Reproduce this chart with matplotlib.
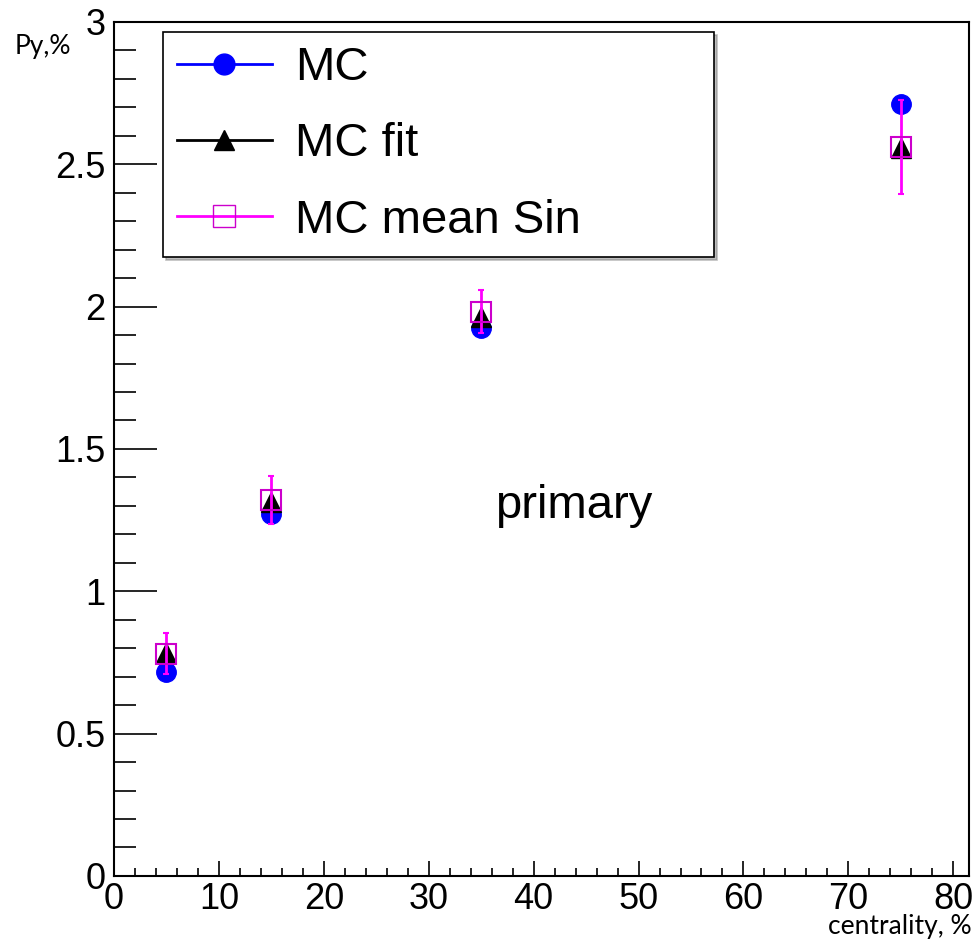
import matplotlib.pyplot as plt
from matplotlib.lines import Line2D
from matplotlib.ticker import MultipleLocator

# Datos
centrality = [5, 15, 35, 75]
mc = [0.718, 1.27, 1.924, 2.712]
mc_fit = [0.783, 1.314, 1.965, 2.556]
mc_mean_sin = [0.78, 1.32, 1.982, 2.562]
mc_mean_sin_err = [0.072, 0.085, 0.075, 0.165]

plt.rcParams['font.family'] = ['Liberation Sans', 'DejaVu Sans']

fig = plt.figure(figsize=(9.77, 9.43), dpi=100)
ax = fig.add_axes([0.1167, 0.0711, 0.8751, 0.9056])

ax.plot(centrality, mc, 'o', color='#0000ff', markersize=14, zorder=3)
ax.plot(centrality, mc_fit, '^', color='black', markersize=14, zorder=4)
ax.errorbar(centrality, mc_mean_sin, yerr=mc_mean_sin_err, fmt='s', color='#ff00ff',
            mfc='none', mec='#cc00cc', markersize=15, mew=1.5, elinewidth=2,
            capsize=2, capthick=3, zorder=5)

ax.set_xlim(0, 81.5)
ax.set_ylim(0, 3)
ax.xaxis.set_major_locator(MultipleLocator(10))
ax.xaxis.set_minor_locator(MultipleLocator(2))
ax.yaxis.set_major_locator(MultipleLocator(0.5))
ax.yaxis.set_minor_locator(MultipleLocator(0.1))
ax.tick_params(axis='both', which='both', direction='in', labelsize=26, width=1.2)
ax.tick_params(axis='y', which='major', length=31, pad=6)
ax.tick_params(axis='y', which='minor', length=16)
ax.tick_params(axis='x', which='major', length=11, pad=4)
ax.tick_params(axis='x', which='minor', length=5.5)
ax.set_yticks([0, 0.5, 1, 1.5, 2, 2.5, 3])
ax.set_yticklabels(['0', '0.5', '1', '1.5', '2', '2.5', '3'])
for s in ax.spines.values():
    s.set_linewidth(1.5)

fig.text(0.015, 0.951, 'Py,%', fontsize=19, family='Lato', ha='left', va='center')
fig.text(0.995, 0.031, 'centrality, %', fontsize=19, family='Lato', ha='right', va='top')

ax.text(43.8, 1.30, 'primary', fontsize=34, ha='center', va='center')

handles = [
    Line2D([], [], color='#0000ff', marker='o', markersize=15, lw=2),
    Line2D([], [], color='black', marker='^', markersize=15, lw=2),
    Line2D([], [], color='#ff00ff', marker='s', markersize=16, mfc='none', mec='#cc00cc', lw=2),
]
leg = ax.legend(handles, ['MC', 'MC fit', 'MC mean Sin'], loc='upper left',
                bbox_to_anchor=(0.0573, 0.726, 0.6445, 0.262), mode='expand',
                borderaxespad=0, fontsize=34, fancybox=False, edgecolor='black',
                framealpha=1, handlelength=2.0, handletextpad=0.5, labelspacing=0.68,
                borderpad=0.3, shadow={'color': '0.5'})
leg.get_frame().set_linewidth(1.2)

plt.savefig('out.png', dpi=100)
